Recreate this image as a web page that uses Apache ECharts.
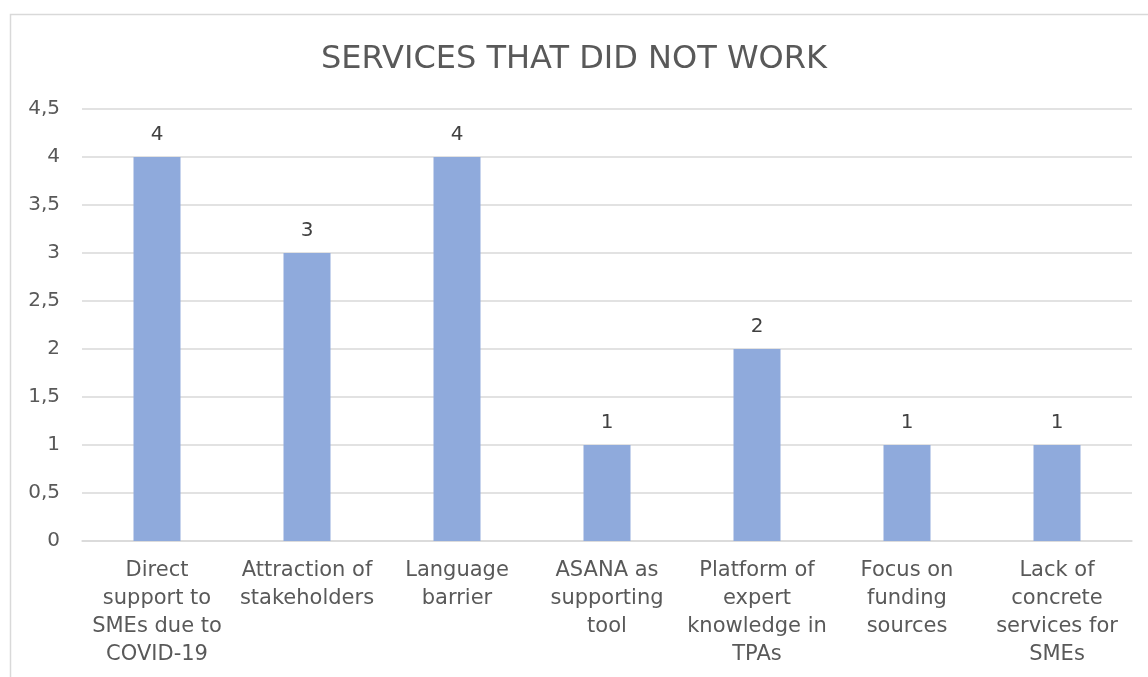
<!DOCTYPE html>
<html><head><meta charset="utf-8">
<script src="https://cdn.jsdelivr.net/npm/echarts@6/dist/echarts.min.js"></script>
<style>html,body{margin:0;padding:0;background:#fff}#c{width:1148px;height:677px}</style>
</head><body><div id="c"></div>
<script>
const categories = [
  "Direct\nsupport to\nSMEs due to\nCOVID-19",
  "Attraction of\nstakeholders",
  "Language\nbarrier",
  "ASANA as\nsupporting\ntool",
  "Platform of\nexpert\nknowledge in\nTPAs",
  "Focus on\nfunding\nsources",
  "Lack of\nconcrete\nservices for\nSMEs"
];
const values = [4, 3, 4, 1, 2, 1, 1];
const titleText = "SERVICES THAT DID NOT WORK";

const chart = echarts.init(document.getElementById('c'));
const font = "DejaVu Sans";
chart.setOption({
  animation: false,
  backgroundColor: '#fff',
  graphic: [{
    type: 'rect', left: 8, top: 12, silent: true,
    shape: { width: 1200, height: 700 },
    style: { fill: 'none', stroke: '#d9d9d9', lineWidth: 1.5 }
  }],
  title: {
    text: titleText, left: 'center', top: 39,
    textStyle: { fontFamily: font, fontSize: 32, fontWeight: 'normal', color: '#595959' }
  },
  grid: { left: 82, right: 16, top: 109, bottom: 136 },
  xAxis: {
    type: 'category', data: categories,
    axisLine: { lineStyle: { color: '#d9d9d9', width: 1.5 } },
    axisTick: { show: false },
    axisLabel: { interval: 0, margin: 16, fontFamily: font, fontSize: 21, color: '#595959', lineHeight: 28 }
  },
  yAxis: {
    type: 'value', min: 0, max: 4.5, interval: 0.5,
    axisLine: { show: false }, axisTick: { show: false },
    splitLine: { lineStyle: { color: '#d9d9d9', width: 1.5 } },
    axisLabel: { margin: 22, fontFamily: font, fontSize: 20, color: '#595959',
      formatter: v => String(v).replace('.', ',') }
  },
  series: [{
    type: 'bar', data: values, barWidth: 47,
    itemStyle: { color: '#8FAADC' },
    label: { show: true, position: 'top', distance: 12, fontFamily: font, fontSize: 20, color: '#404040' }
  }]
});
</script></body></html>
